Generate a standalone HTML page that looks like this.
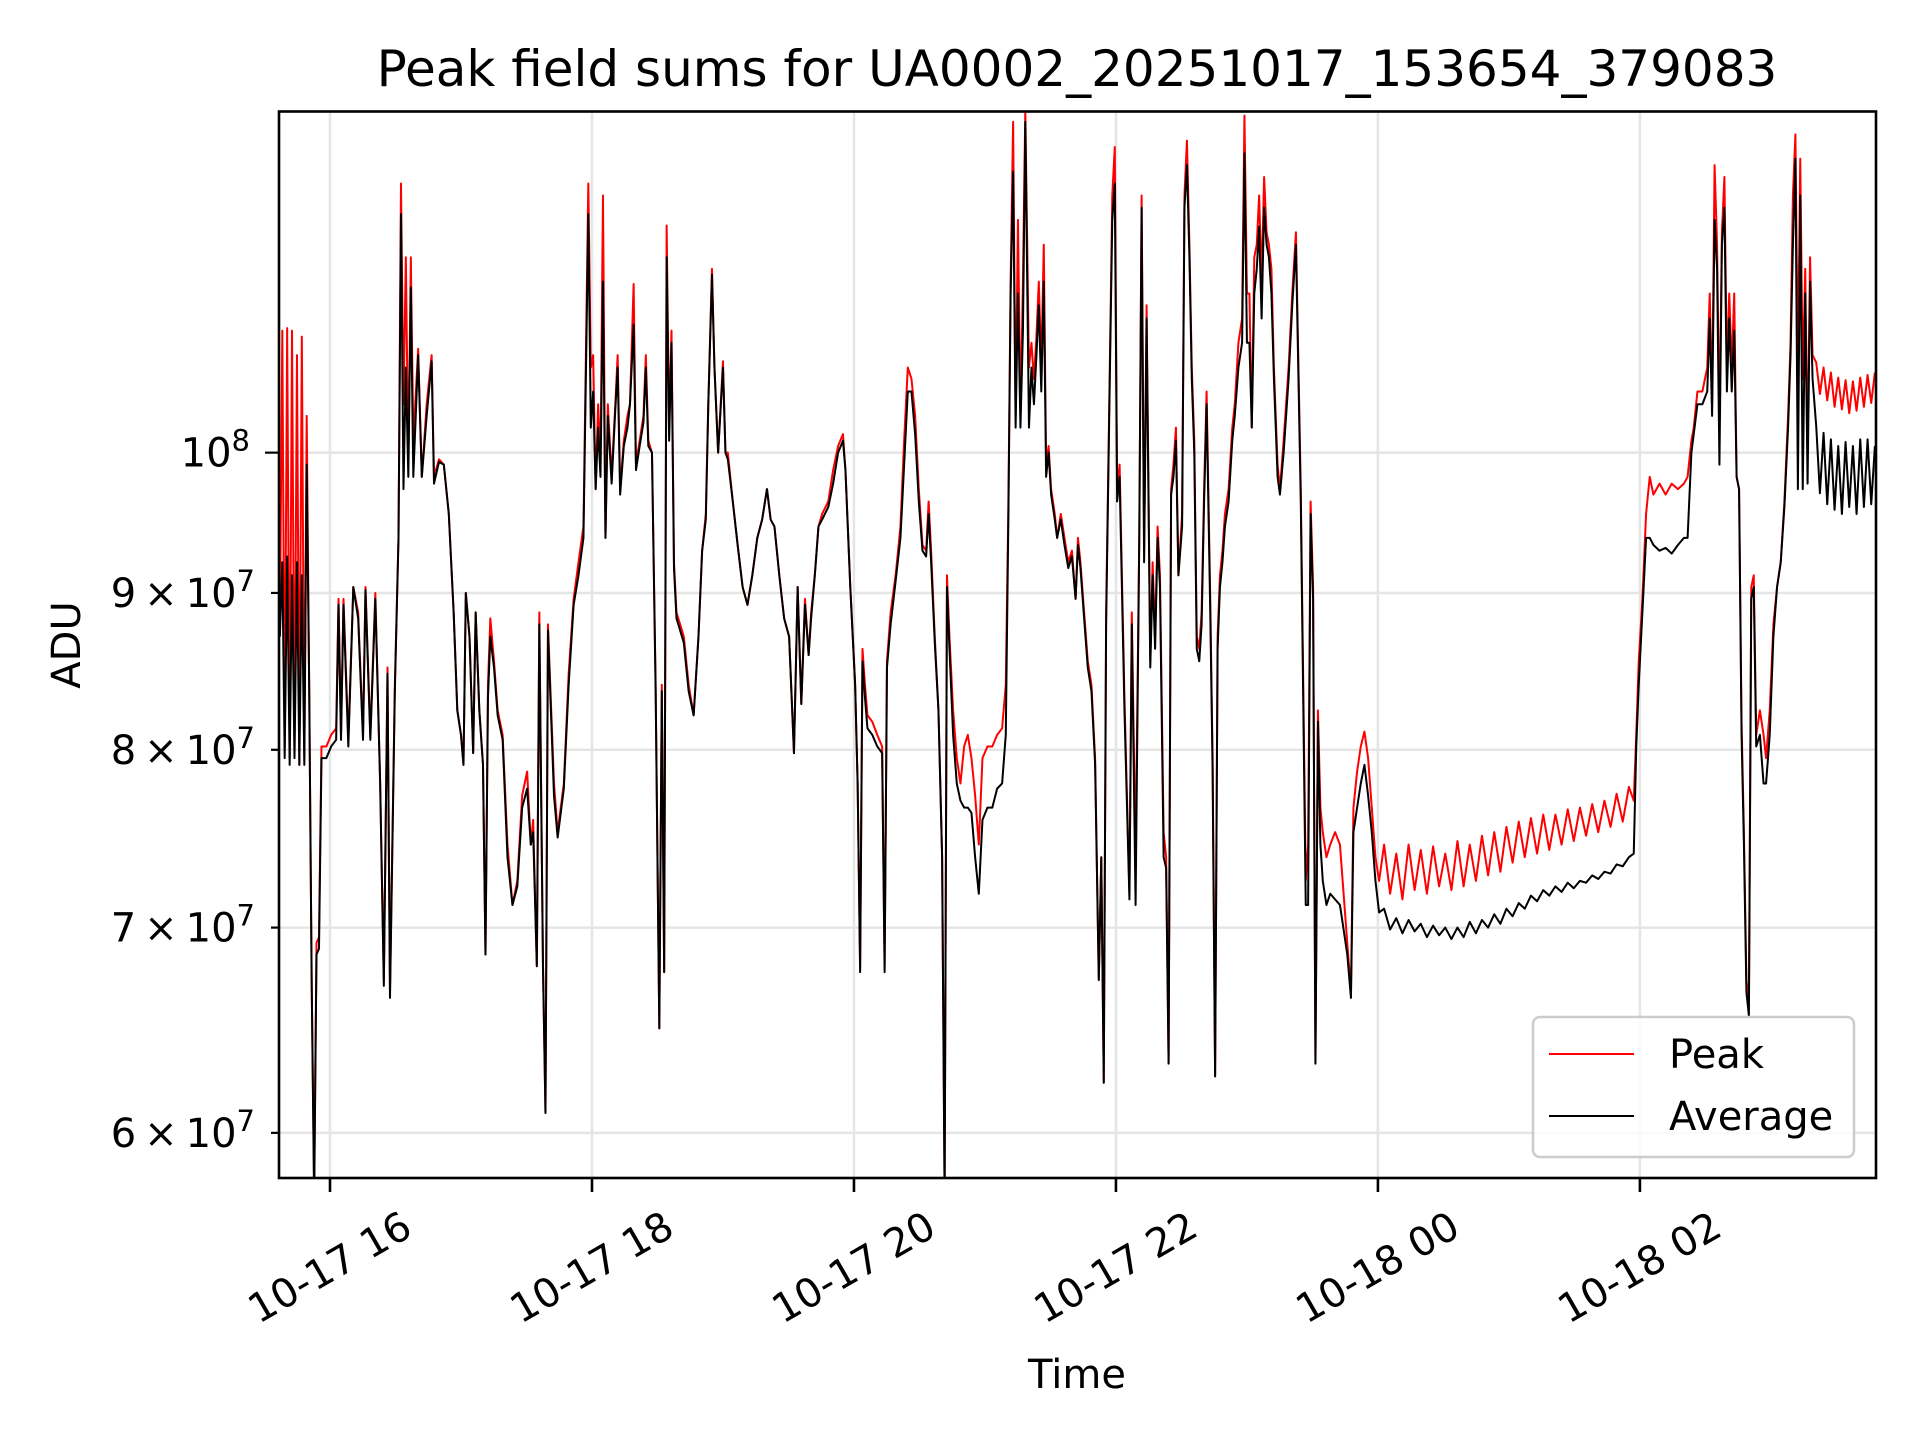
<!DOCTYPE html>
<html>
<head>
<meta charset="utf-8">
<style>
  html, body { margin:0; padding:0; background:#fff; }
  svg { display:block; font-family:"DejaVu Sans","Liberation Sans",sans-serif; }
</style>
</head>
<body>
<svg id="chart" width="1920" height="1440" viewBox="0 0 1920 1440" xmlns="http://www.w3.org/2000/svg">
  <rect x="0" y="0" width="1920" height="1440" fill="#fff"/>
  <defs>
    <clipPath id="plotclip"><rect x="279" y="111.5" width="1597" height="1066.5"/></clipPath>
  </defs>
  <g id="grid"></g>
  <g id="series" clip-path="url(#plotclip)"></g>
  <rect x="279" y="111.5" width="1597" height="1066.5" fill="none" stroke="#000" stroke-width="2.6"/>
  <g id="xticks"></g>
  <g id="yticks"></g>
  <text x="1077" y="86" font-size="50" text-anchor="middle">Peak field sums for UA0002_20251017_153654_379083</text>
  <text x="1077" y="1388" font-size="40" text-anchor="middle">Time</text>
  <text transform="translate(80,645) rotate(-90)" font-size="40" text-anchor="middle">ADU</text>
  <g>
    <rect x="1533" y="1017" width="321" height="140" rx="7" fill="#fff" fill-opacity="0.8" stroke="#cccccc" stroke-width="2.5"/>
    <line x1="1549" y1="1054" x2="1634" y2="1054" stroke="#ff0000" stroke-width="2"/>
    <text x="1669" y="1068" font-size="40">Peak</text>
    <line x1="1549" y1="1116" x2="1634" y2="1116" stroke="#000" stroke-width="2"/>
    <text x="1669" y="1130" font-size="40">Average</text>
  </g>
</svg>
<script>
// time in hours since 10-17 00:00; values in units of 1e7 ADU
const times = [15.617,15.636,15.654,15.673,15.692,15.710,15.729,15.748,15.766,15.785,15.804,15.822,15.841,15.860,15.879,15.897,15.916,15.935,15.972,16.009,16.047,16.065,16.084,16.103,16.140,16.178,16.215,16.252,16.271,16.308,16.346,16.383,16.411,16.439,16.458,16.495,16.523,16.542,16.561,16.579,16.598,16.617,16.636,16.673,16.701,16.738,16.776,16.794,16.832,16.869,16.907,16.944,16.972,17.000,17.019,17.037,17.065,17.093,17.112,17.140,17.168,17.187,17.206,17.224,17.252,17.280,17.318,17.355,17.393,17.430,17.467,17.505,17.533,17.551,17.579,17.598,17.626,17.645,17.664,17.710,17.738,17.785,17.822,17.860,17.897,17.935,17.972,17.991,18.009,18.028,18.047,18.065,18.084,18.103,18.121,18.150,18.178,18.196,18.215,18.243,18.271,18.290,18.318,18.336,18.364,18.393,18.411,18.430,18.458,18.486,18.514,18.533,18.551,18.570,18.589,18.607,18.626,18.645,18.673,18.701,18.738,18.776,18.813,18.841,18.869,18.888,18.916,18.935,18.963,19.000,19.019,19.037,19.075,19.112,19.150,19.187,19.224,19.262,19.299,19.336,19.364,19.393,19.430,19.467,19.505,19.542,19.570,19.598,19.626,19.654,19.673,19.701,19.729,19.757,19.804,19.841,19.879,19.916,19.935,19.972,20.009,20.028,20.047,20.065,20.084,20.103,20.140,20.178,20.215,20.234,20.252,20.280,20.318,20.355,20.383,20.411,20.439,20.467,20.495,20.523,20.551,20.570,20.589,20.617,20.645,20.673,20.692,20.710,20.729,20.757,20.785,20.813,20.841,20.869,20.897,20.925,20.953,20.981,21.019,21.056,21.093,21.131,21.159,21.178,21.196,21.215,21.234,21.252,21.271,21.290,21.308,21.336,21.355,21.374,21.393,21.411,21.430,21.449,21.467,21.486,21.505,21.533,21.551,21.579,21.607,21.636,21.664,21.692,21.710,21.729,21.757,21.785,21.813,21.841,21.869,21.888,21.907,21.925,21.953,21.972,21.991,22.009,22.028,22.065,22.103,22.121,22.150,22.178,22.196,22.215,22.234,22.262,22.280,22.299,22.318,22.336,22.364,22.383,22.402,22.421,22.439,22.458,22.477,22.505,22.523,22.542,22.561,22.579,22.598,22.617,22.636,22.654,22.673,22.692,22.720,22.738,22.757,22.776,22.794,22.813,22.832,22.860,22.888,22.907,22.935,22.963,22.981,23.000,23.019,23.037,23.056,23.075,23.093,23.112,23.131,23.150,23.168,23.187,23.206,23.234,23.252,23.280,23.299,23.318,23.346,23.374,23.411,23.449,23.467,23.486,23.505,23.523,23.542,23.561,23.579,23.607,23.636,23.673,23.710,23.738,23.766,23.794,23.813,23.841,23.869,23.897,23.925,23.953,23.981,24.009,24.047,24.093,24.140,24.187,24.234,24.280,24.327,24.374,24.421,24.467,24.514,24.561,24.607,24.654,24.701,24.748,24.794,24.841,24.888,24.935,24.981,25.028,25.075,25.121,25.168,25.215,25.262,25.308,25.355,25.402,25.449,25.495,25.542,25.589,25.636,25.682,25.729,25.776,25.822,25.869,25.916,25.953,25.972,25.991,26.019,26.047,26.075,26.103,26.150,26.196,26.243,26.290,26.336,26.364,26.393,26.411,26.439,26.477,26.514,26.533,26.551,26.570,26.589,26.607,26.626,26.645,26.664,26.682,26.701,26.720,26.738,26.757,26.776,26.794,26.813,26.832,26.850,26.869,26.888,26.916,26.944,26.963,26.991,27.019,27.047,27.075,27.103,27.131,27.150,27.168,27.187,27.206,27.224,27.243,27.262,27.280,27.299,27.318,27.346,27.374,27.402,27.430,27.458,27.486,27.514,27.542,27.570,27.598,27.626,27.654,27.682,27.710,27.738,27.766,27.794];
const peakValues = [8.71,10.96,8.02,10.98,7.95,10.96,7.98,10.76,7.91,10.91,7.95,10.28,8.40,6.73,5.75,6.92,6.95,8.02,8.02,8.09,8.13,8.96,8.09,8.96,8.06,9.04,8.87,8.09,9.04,8.09,9.00,7.80,6.73,8.51,6.67,8.40,9.38,12.24,10.37,11.58,9.91,11.58,10.09,10.81,9.82,10.37,10.76,9.82,9.95,9.91,9.55,8.87,8.24,8.09,7.91,9.00,8.71,7.98,8.87,8.24,7.91,6.86,8.40,8.83,8.55,8.24,8.09,7.45,7.12,7.25,7.73,7.87,7.45,7.59,6.80,8.87,6.80,6.09,8.79,7.80,7.52,7.80,8.47,8.96,9.21,9.46,12.24,10.66,10.76,9.73,10.37,9.91,12.13,9.38,10.37,9.82,10.37,10.76,9.73,10.09,10.28,10.37,11.35,9.91,10.09,10.28,10.76,10.09,10.00,8.40,6.49,8.40,6.77,11.86,10.19,10.96,9.21,8.87,8.79,8.71,8.40,8.21,8.71,9.29,9.55,10.37,11.48,10.66,10.00,10.71,10.00,10.00,9.64,9.33,9.04,8.92,9.12,9.38,9.51,9.73,9.51,9.46,9.12,8.83,8.71,7.98,9.04,8.28,8.96,8.59,8.87,9.12,9.46,9.55,9.64,9.87,10.05,10.14,9.87,9.04,8.40,7.80,6.80,8.63,8.40,8.21,8.17,8.09,8.02,6.80,8.55,8.87,9.12,9.46,10.09,10.66,10.57,10.28,9.73,9.33,9.29,9.64,9.29,8.71,8.24,7.38,5.75,9.12,8.71,8.24,7.95,7.80,8.02,8.09,7.95,7.73,7.45,7.95,8.02,8.02,8.09,8.13,8.40,9.55,11.37,12.82,10.28,11.91,10.28,11.37,12.94,10.66,10.86,10.57,10.91,11.37,10.66,11.69,9.91,10.05,9.73,9.55,9.38,9.55,9.38,9.21,9.29,8.96,9.38,9.21,8.87,8.55,8.40,7.95,6.73,7.38,6.23,8.87,10.66,12.13,12.58,9.73,9.91,8.32,7.18,8.87,7.38,9.38,12.13,9.29,11.17,8.55,9.21,8.71,9.46,9.12,7.52,7.38,6.32,9.73,9.91,10.19,9.12,9.55,12.13,12.64,11.69,10.66,10.09,8.71,8.63,8.87,9.73,10.47,8.96,7.95,6.26,8.71,9.12,9.29,9.55,9.73,10.19,10.37,10.86,11.06,12.88,11.27,11.27,10.19,11.58,11.69,12.13,11.37,12.30,11.80,11.69,11.48,10.66,9.91,9.73,10.09,10.37,10.66,11.27,11.80,9.73,7.25,7.45,9.64,9.04,6.32,8.24,7.66,7.52,7.38,7.45,7.52,7.45,7.18,6.92,6.67,7.66,7.87,8.02,8.11,7.95,7.66,7.38,7.25,7.45,7.18,7.40,7.15,7.45,7.20,7.42,7.18,7.44,7.22,7.40,7.20,7.47,7.22,7.45,7.25,7.50,7.28,7.52,7.30,7.55,7.35,7.58,7.38,7.60,7.40,7.62,7.42,7.62,7.45,7.65,7.47,7.66,7.50,7.68,7.52,7.70,7.55,7.74,7.58,7.78,7.70,8.09,8.55,8.96,9.55,9.82,9.69,9.77,9.69,9.77,9.73,9.77,9.82,10.09,10.19,10.47,10.47,10.66,11.27,10.37,12.41,11.69,10.19,11.80,12.30,10.66,11.27,10.66,11.27,9.82,9.73,8.17,7.52,6.73,6.61,9.04,9.12,8.09,8.24,8.09,7.95,8.24,8.79,9.04,9.21,9.64,10.28,10.86,12.13,12.70,10.66,12.47,10.57,11.48,10.00,11.58,10.76,10.70,10.45,10.66,10.40,10.62,10.35,10.58,10.33,10.56,10.30,10.55,10.32,10.58,10.35,10.60,10.38,10.62];
const avgValues = [8.71,9.21,7.95,9.25,7.91,9.12,7.95,9.21,7.91,9.12,7.91,9.91,8.40,6.73,5.70,6.86,6.89,7.95,7.95,8.02,8.06,8.92,8.06,8.92,8.02,9.04,8.83,8.06,9.02,8.06,8.96,7.80,6.70,8.47,6.64,8.36,9.38,11.96,9.73,10.66,9.82,11.32,9.82,10.76,9.82,10.28,10.71,9.77,9.93,9.91,9.55,8.87,8.24,8.09,7.91,9.00,8.71,7.98,8.87,8.24,7.91,6.86,8.32,8.71,8.51,8.21,8.06,7.38,7.12,7.22,7.66,7.77,7.45,7.52,6.80,8.79,6.80,6.09,8.75,7.73,7.49,7.77,8.40,8.92,9.12,9.38,11.96,10.19,10.47,9.73,10.19,9.82,11.37,9.38,10.28,9.77,10.33,10.66,9.69,10.05,10.19,10.37,11.01,9.87,10.05,10.23,10.66,10.05,10.00,8.36,6.49,8.36,6.77,11.58,10.09,10.86,9.17,8.83,8.75,8.67,8.36,8.21,8.71,9.29,9.51,10.37,11.43,10.66,10.00,10.66,10.00,9.95,9.64,9.33,9.04,8.92,9.12,9.38,9.51,9.73,9.51,9.46,9.12,8.83,8.71,7.98,9.04,8.28,8.92,8.59,8.83,9.12,9.46,9.51,9.60,9.77,10.00,10.09,9.87,9.04,8.40,7.80,6.77,8.55,8.32,8.13,8.09,8.02,7.98,6.77,8.51,8.79,9.08,9.38,9.91,10.47,10.47,10.14,9.64,9.29,9.25,9.55,9.21,8.67,8.24,7.38,5.70,9.04,8.63,8.09,7.80,7.70,7.66,7.66,7.63,7.38,7.18,7.59,7.66,7.66,7.77,7.80,8.09,9.46,11.27,12.35,10.19,11.27,10.19,10.96,12.82,10.19,10.66,10.37,10.76,11.17,10.47,11.37,9.82,10.00,9.69,9.51,9.38,9.51,9.33,9.17,9.25,8.96,9.33,9.17,8.83,8.51,8.36,7.91,6.73,7.38,6.23,8.79,10.57,11.91,12.24,9.64,9.82,8.24,7.15,8.79,7.12,9.38,12.02,9.21,11.06,8.51,9.12,8.63,9.38,9.04,7.38,7.32,6.32,9.69,9.82,10.09,9.12,9.46,12.02,12.41,11.58,10.57,10.00,8.63,8.55,8.79,9.64,10.37,8.87,7.87,6.26,8.63,9.04,9.21,9.46,9.64,10.09,10.28,10.66,10.86,12.52,10.86,10.86,10.19,11.27,11.48,11.85,11.06,12.02,11.69,11.58,11.27,10.57,9.82,9.69,10.00,10.28,10.57,11.17,11.69,9.64,7.12,7.12,9.55,8.96,6.32,8.17,7.45,7.25,7.12,7.18,7.15,7.12,6.99,6.86,6.64,7.52,7.66,7.80,7.91,7.73,7.52,7.25,7.08,7.10,6.99,7.05,6.97,7.04,6.98,7.02,6.95,7.01,6.96,7.00,6.94,7.00,6.95,7.03,6.97,7.04,7.00,7.07,7.02,7.10,7.06,7.13,7.10,7.17,7.14,7.20,7.17,7.22,7.19,7.24,7.21,7.25,7.24,7.28,7.26,7.30,7.29,7.34,7.33,7.38,7.40,8.02,8.40,8.87,9.38,9.38,9.33,9.29,9.31,9.27,9.33,9.38,9.38,10.00,10.14,10.37,10.37,10.47,11.06,10.28,11.91,11.48,9.91,11.69,12.02,10.47,11.06,10.47,10.96,9.82,9.73,8.09,7.45,6.67,6.55,8.96,9.04,8.02,8.09,7.80,7.80,8.09,8.71,9.04,9.21,9.60,10.19,10.76,11.69,12.47,9.73,12.13,9.73,11.27,9.77,11.37,10.57,10.20,9.70,10.15,9.62,10.10,9.58,10.05,9.55,10.08,9.60,10.05,9.55,10.10,9.60,10.10,9.62,10.05];
const xTickHours = [16,18,20,22,24,26];
const xTickLabels = ["10-17 16","10-17 18","10-17 20","10-17 22","10-18 00","10-18 02"];
const yTickValues = [6,7,8,9,10];
const yTickLabels = ["6\u2009×\u200910^7","7\u2009×\u200910^7","8\u2009×\u200910^7","9\u2009×\u200910^7","10^8"];

const NS = "http://www.w3.org/2000/svg";
const X0 = 279, X1 = 1876, Y0 = 111.5, Y1 = 1178;
const T_MIN = 15.6107, T_MAX = 27.8023;
const V_MIN = 5.80, V_MAX = 12.92;
function xScale(t){ return X0 + (t - T_MIN) / (T_MAX - T_MIN) * (X1 - X0); }
function yScale(v){ return Y1 - (Math.log(v) - Math.log(V_MIN)) / (Math.log(V_MAX) - Math.log(V_MIN)) * (Y1 - Y0); }
function mk(tag, attrs){ const e = document.createElementNS(NS, tag); for (const k in attrs) e.setAttribute(k, attrs[k]); return e; }

const grid = document.getElementById('grid');
const xt = document.getElementById('xticks');
const yt = document.getElementById('yticks');
const series = document.getElementById('series');

xTickHours.forEach((h, i) => {
  const x = xScale(h);
  const gl = mk('line', {x1:x, x2:x, y1:Y0, y2:Y1, stroke:'#e5e5e5', 'stroke-width':2.5});
  
  
  grid.appendChild(gl);
  const tk = mk('line', {x1:x, x2:x, y1:Y1, y2:Y1+14, stroke:'#000', 'stroke-width':2.6});
  
  
  xt.appendChild(tk);
  const tx = mk('text', {transform:`translate(${x},1268) rotate(-30)`, 'font-size':40, 'text-anchor':'middle', 'dominant-baseline':'central'});
  tx.textContent = xTickLabels[i];
  
  
  xt.appendChild(tx);
});

yTickValues.forEach((v, i) => {
  const y = yScale(v);
  const major = (v === 10);
  const gl = mk('line', {x1:X0, x2:X1, y1:y, y2:y, stroke:'#e5e5e5', 'stroke-width':2.5});
  
  
  grid.appendChild(gl);
  const tk = mk('line', {x1:X0 - (major ? 14 : 8), x2:X0, y1:y, y2:y, stroke:'#000', 'stroke-width':2.2});
  
  
  yt.appendChild(tk);
  const parts = yTickLabels[i].split('^');
  const tx = mk('text', {x: major ? 250 : 255, y: y + 14, 'font-size':40, 'text-anchor':'end'});
  
  
  tx.appendChild(document.createTextNode(parts[0]));
  const sup = mk('tspan', {dy:-16, 'font-size':29});
  sup.textContent = parts[1];
  tx.appendChild(sup);
  yt.appendChild(tx);
});

function pathFor(vals){
  return vals.map((v, i) => (i ? 'L' : 'M') + xScale(times[i]).toFixed(2) + ' ' + yScale(v).toFixed(2)).join(' ');
}
const pk = mk('path', {d: pathFor(peakValues), fill:'none', stroke:'#ff0000', 'stroke-width':2, 'stroke-linejoin':'round'});


series.appendChild(pk);
const av = mk('path', {d: pathFor(avgValues), fill:'none', stroke:'#000000', 'stroke-width':2, 'stroke-linejoin':'round'});


series.appendChild(av);
</script>
</body>
</html>
